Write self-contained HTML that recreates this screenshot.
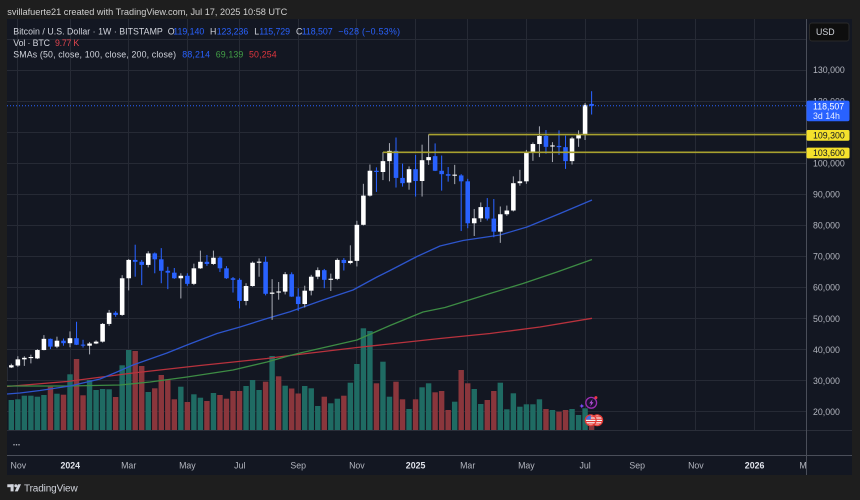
<!DOCTYPE html>
<html><head><meta charset="utf-8"><style>
html,body{margin:0;padding:0;background:#1e1e1e;}
svg{display:block;font-family:"Liberation Sans",sans-serif;}
</style></head><body>
<svg width="860" height="500" viewBox="0 0 860 500" xmlns="http://www.w3.org/2000/svg">
<defs>
<clipPath id="pane"><rect x="7" y="19" width="799.5" height="411"/></clipPath>
<clipPath id="tax"><rect x="7" y="456" width="799.5" height="19"/></clipPath>
<clipPath id="f1"><circle cx="590.7" cy="420.3" r="5.4"/></clipPath>
<clipPath id="f2"><circle cx="597.2" cy="420.3" r="5.4"/></clipPath>
</defs>
<rect width="860" height="500" fill="#1e1e1e"/>
<text x="7.3" y="14.8" font-size="9.2" fill="#cfcfcf" textLength="280">svillafuerte21 created with TradingView.com, Jul 17, 2025 10:58 UTC</text>
<rect x="7" y="19" width="845" height="456" fill="#131722"/>

<g clip-path="url(#pane)">
<g stroke="#262a35" stroke-width="1">
<line x1="7" x2="806" y1="411.5" y2="411.5"/><line x1="7" x2="806" y1="380.5" y2="380.5"/><line x1="7" x2="806" y1="349.5" y2="349.5"/><line x1="7" x2="806" y1="318.5" y2="318.5"/><line x1="7" x2="806" y1="287.5" y2="287.5"/><line x1="7" x2="806" y1="256.5" y2="256.5"/><line x1="7" x2="806" y1="225.5" y2="225.5"/><line x1="7" x2="806" y1="194.5" y2="194.5"/><line x1="7" x2="806" y1="163.5" y2="163.5"/><line x1="7" x2="806" y1="132.5" y2="132.5"/><line x1="7" x2="806" y1="101.5" y2="101.5"/><line x1="7" x2="806" y1="70.5" y2="70.5"/><line x1="7" x2="806" y1="39.5" y2="39.5"/>
<line y1="19" y2="430" x1="17.5" x2="17.5"/><line y1="19" y2="430" x1="70.5" x2="70.5"/><line y1="19" y2="430" x1="128.5" x2="128.5"/><line y1="19" y2="430" x1="187.5" x2="187.5"/><line y1="19" y2="430" x1="239.5" x2="239.5"/><line y1="19" y2="430" x1="298.5" x2="298.5"/><line y1="19" y2="430" x1="356.5" x2="356.5"/><line y1="19" y2="430" x1="415.5" x2="415.5"/><line y1="19" y2="430" x1="467.5" x2="467.5"/><line y1="19" y2="430" x1="526.5" x2="526.5"/><line y1="19" y2="430" x1="585.5" x2="585.5"/><line y1="19" y2="430" x1="637.5" x2="637.5"/><line y1="19" y2="430" x1="695.5" x2="695.5"/><line y1="19" y2="430" x1="754.5" x2="754.5"/>
</g>

<g transform="matrix(6.52 0 0 1 17.84 0)">
<g fill="#1f6b63">
<rect x="-1.415" y="400" width=".83" height="30"/><rect x="-0.415" y="399.3" width=".83" height="30.7"/><rect x="0.585" y="395.7" width=".83" height="34.3"/><rect x="1.585" y="395.7" width=".83" height="34.3"/><rect x="2.585" y="396.7" width=".83" height="33.3"/><rect x="3.585" y="395" width=".83" height="35"/><rect x="5.585" y="393.7" width=".83" height="36.3"/><rect x="7.585" y="374.3" width=".83" height="55.7"/><rect x="10.585" y="380" width=".83" height="50"/><rect x="11.585" y="390" width=".83" height="40"/><rect x="12.585" y="389" width=".83" height="41"/><rect x="13.585" y="389.3" width=".83" height="40.7"/><rect x="15.585" y="365.3" width=".83" height="64.7"/><rect x="16.585" y="350" width=".83" height="80"/><rect x="19.585" y="392" width=".83" height="38"/><rect x="24.585" y="386.7" width=".83" height="43.3"/><rect x="26.585" y="394.3" width=".83" height="35.7"/><rect x="27.585" y="397.7" width=".83" height="32.3"/><rect x="29.585" y="393" width=".83" height="37"/><rect x="34.585" y="386" width=".83" height="44"/><rect x="35.585" y="380" width=".83" height="50"/><rect x="36.585" y="390" width=".83" height="40"/><rect x="38.585" y="356" width=".83" height="74"/><rect x="40.585" y="385.7" width=".83" height="44.3"/><rect x="43.585" y="386" width=".83" height="44"/><rect x="44.585" y="388.3" width=".83" height="41.7"/><rect x="45.585" y="406" width=".83" height="24"/><rect x="47.585" y="403.3" width=".83" height="26.7"/><rect x="48.585" y="398.7" width=".83" height="31.3"/><rect x="50.585" y="382.7" width=".83" height="47.3"/><rect x="51.585" y="364" width=".83" height="66"/><rect x="52.585" y="328.3" width=".83" height="101.7"/><rect x="53.585" y="331" width=".83" height="99"/><rect x="55.585" y="361.7" width=".83" height="68.3"/><rect x="56.585" y="396.7" width=".83" height="33.3"/><rect x="59.585" y="409" width=".83" height="21"/><rect x="61.585" y="387.3" width=".83" height="42.7"/><rect x="62.585" y="383.3" width=".83" height="46.7"/><rect x="66.585" y="401.7" width=".83" height="28.3"/><rect x="69.585" y="389" width=".83" height="41"/><rect x="70.585" y="404" width=".83" height="26"/><rect x="73.585" y="382.7" width=".83" height="47.3"/><rect x="74.585" y="409.3" width=".83" height="20.7"/><rect x="75.585" y="393.3" width=".83" height="36.7"/><rect x="76.585" y="406.7" width=".83" height="23.3"/><rect x="77.585" y="404.3" width=".83" height="25.7"/><rect x="78.585" y="404.3" width=".83" height="25.7"/><rect x="79.585" y="399.3" width=".83" height="30.7"/><rect x="81.585" y="410" width=".83" height="20"/><rect x="84.585" y="409" width=".83" height="21"/><rect x="85.585" y="415" width=".83" height="15"/><rect x="86.585" y="408.3" width=".83" height="21.7"/>
</g>
<g fill="#8a363c">
<rect x="4.585" y="386.7" width=".83" height="43.3"/><rect x="6.585" y="394.7" width=".83" height="35.3"/><rect x="8.585" y="359" width=".83" height="71"/><rect x="9.585" y="395.3" width=".83" height="34.7"/><rect x="14.585" y="397" width=".83" height="33"/><rect x="17.585" y="351" width=".83" height="79"/><rect x="18.585" y="366" width=".83" height="64"/><rect x="20.585" y="388.3" width=".83" height="41.7"/><rect x="21.585" y="375" width=".83" height="55"/><rect x="22.585" y="379.3" width=".83" height="50.7"/><rect x="23.585" y="399.3" width=".83" height="30.7"/><rect x="25.585" y="402" width=".83" height="28"/><rect x="28.585" y="401" width=".83" height="29"/><rect x="30.585" y="395" width=".83" height="35"/><rect x="31.585" y="398.7" width=".83" height="31.3"/><rect x="32.585" y="391" width=".83" height="39"/><rect x="33.585" y="391" width=".83" height="39"/><rect x="37.585" y="381.7" width=".83" height="48.3"/><rect x="39.585" y="376.3" width=".83" height="53.7"/><rect x="41.585" y="388.5" width=".83" height="41.5"/><rect x="42.585" y="393.5" width=".83" height="36.5"/><rect x="46.585" y="396.7" width=".83" height="33.3"/><rect x="49.585" y="395.7" width=".83" height="34.3"/><rect x="54.585" y="383.3" width=".83" height="46.7"/><rect x="57.585" y="381.7" width=".83" height="48.3"/><rect x="58.585" y="399.3" width=".83" height="30.7"/><rect x="60.585" y="399.3" width=".83" height="30.7"/><rect x="63.585" y="392.3" width=".83" height="37.7"/><rect x="64.585" y="391" width=".83" height="39"/><rect x="65.585" y="410" width=".83" height="20"/><rect x="67.585" y="370" width=".83" height="60"/><rect x="68.585" y="383.3" width=".83" height="46.7"/><rect x="71.585" y="400" width=".83" height="30"/><rect x="72.585" y="391" width=".83" height="39"/><rect x="80.585" y="409" width=".83" height="21"/><rect x="82.585" y="411.7" width=".83" height="18.3"/><rect x="83.585" y="410" width=".83" height="20"/><rect x="87.585" y="424" width=".83" height="6"/>
</g>
</g>

<g fill="none" stroke-width="1.3" stroke-linejoin="round">
<polyline stroke="#b8323d" points="7,386.5 67,381.5 133,373 200,365.5 267,358.5 290,355.5 357,347.5 440,338.5 490,333.5 540,327 592,318.3"/>
<polyline stroke="#3d8c44" points="7,386 67,386 120,385 150,382 187,377 233,370 267,362 290,355.5 300,353 357,340 390,325.5 423,312 445,307.5 490,293.5 523,283.5 557,272 592,259.5"/>
<polyline stroke="#2d55cc" points="7,394 20,393 40,390.5 70,386 100,379 117,372 133,365 150,359 167,353 187,345 217,333.5 240,327 267,318.5 290,311.7 323,300 353,290 377,277 390,270.5 417,256.5 440,246 463,240.5 500,235 527,227 560,213.5 592,200"/>
</g>

<g transform="matrix(6.52 0 0 -3.107 17.84 474)">
<g fill="#a3a6af">
<rect x="-2.08" y="29.8" width=".16" height="5.2"/><rect x="-1.08" y="34.1" width=".16" height="1.4"/><rect x="-0.08" y="34.5" width=".16" height="3.4"/><rect x="0.92" y="34.8" width=".16" height="3.1"/><rect x="1.92" y="35.6" width=".16" height="2.8"/><rect x="2.92" y="37" width=".16" height="3.2"/><rect x="3.92" y="39.8" width=".16" height="4.9"/><rect x="5.92" y="40.5" width=".16" height="3.7"/><rect x="7.92" y="40.8" width=".16" height="5.1"/><rect x="10.92" y="38.5" width=".16" height="4"/><rect x="11.92" y="41.8" width=".16" height="1.2"/><rect x="12.92" y="42.3" width=".16" height="6.3"/><rect x="13.92" y="47.7" width=".16" height="5.1"/><rect x="15.92" y="50.9" width=".16" height="13.1"/><rect x="16.92" y="59.1" width=".16" height="10.1"/><rect x="19.92" y="66.5" width=".16" height="5.2"/><rect x="24.92" y="56.5" width=".16" height="8.1"/><rect x="26.92" y="60.8" width=".16" height="6.9"/><rect x="27.92" y="66" width=".16" height="5.9"/><rect x="29.92" y="67.3" width=".16" height="4.6"/><rect x="34.92" y="54.3" width=".16" height="7.1"/><rect x="35.92" y="60.3" width=".16" height="8.1"/><rect x="36.92" y="63.5" width=".16" height="5.9"/><rect x="38.92" y="49.6" width=".16" height="13.1"/><rect x="39.92" y="56.1" width=".16" height="5.7"/><rect x="40.92" y="57.8" width=".16" height="7.2"/><rect x="43.92" y="53.6" width=".16" height="7"/><rect x="44.92" y="57.5" width=".16" height="6.6"/><rect x="45.92" y="62.7" width=".16" height="3.8"/><rect x="47.92" y="58.9" width=".16" height="5.6"/><rect x="48.92" y="62.4" width=".16" height="7"/><rect x="50.92" y="67.5" width=".16" height="6.1"/><rect x="51.92" y="66.8" width=".16" height="14.7"/><rect x="52.92" y="80" width=".16" height="13.4"/><rect x="53.92" y="89.3" width=".16" height="10.3"/><rect x="55.92" y="94.6" width=".16" height="9"/><rect x="56.92" y="94.2" width=".16" height="12.3"/><rect x="59.92" y="91.5" width=".16" height="7.5"/><rect x="61.92" y="89.3" width=".16" height="16.7"/><rect x="62.92" y="99.5" width=".16" height="9.8"/><rect x="66.92" y="93.3" width=".16" height="6.2"/><rect x="69.92" y="76.6" width=".16" height="8.7"/><rect x="70.92" y="81.1" width=".16" height="6.3"/><rect x="73.92" y="74.4" width=".16" height="11.7"/><rect x="74.92" y="83.1" width=".16" height="3.3"/><rect x="75.92" y="84.5" width=".16" height="11.3"/><rect x="76.92" y="92.8" width=".16" height="5.1"/><rect x="77.92" y="93.4" width=".16" height="10.9"/><rect x="78.92" y="100.8" width=".16" height="5.9"/><rect x="79.92" y="102" width=".16" height="9.9"/><rect x="81.92" y="100.4" width=".16" height="6.4"/><rect x="84.92" y="99.6" width=".16" height="8.9"/><rect x="85.92" y="105.3" width=".16" height="5.3"/><rect x="86.92" y="107.5" width=".16" height="11.9"/>
</g>
<g fill="#ffffff">
<rect x="-2.35" y="30" width=".7" height="4.5"/><rect x="-1.35" y="34.3" width=".7" height=".7"/><rect x="-0.35" y="34.9" width=".7" height="2"/><rect x="0.65" y="36.9" width=".7" height=".5"/><rect x="1.65" y="37.3" width=".7" height=".35"/><rect x="2.65" y="37.2" width=".7" height="2.7"/><rect x="3.65" y="39.9" width=".7" height="3.6"/><rect x="5.65" y="41" width=".7" height="1.9"/><rect x="7.65" y="42.1" width=".7" height="1.6"/><rect x="10.65" y="41.3" width=".7" height=".7"/><rect x="11.65" y="42" width=".7" height=".6"/><rect x="12.65" y="42.6" width=".7" height="5.7"/><rect x="13.65" y="48.3" width=".7" height="3.6"/><rect x="15.65" y="51.2" width=".7" height="11.8"/><rect x="16.65" y="63" width=".7" height="5.9"/><rect x="19.65" y="67.3" width=".7" height="3.7"/><rect x="24.65" y="63" width=".7" height=".8"/><rect x="26.65" y="61.2" width=".7" height="5"/><rect x="27.65" y="66.2" width=".7" height="2.1"/><rect x="29.65" y="67.6" width=".7" height="2"/><rect x="34.65" y="55.7" width=".7" height="4.8"/><rect x="35.65" y="60.5" width=".7" height="7.5"/><rect x="36.65" y="68" width=".7" height=".35"/><rect x="38.65" y="58" width=".7" height=".4"/><rect x="39.65" y="58.4" width=".7" height=".35"/><rect x="40.65" y="58.7" width=".7" height="5.6"/><rect x="43.65" y="54.7" width=".7" height="4.3"/><rect x="44.65" y="59" width=".7" height="4.5"/><rect x="45.65" y="63.5" width=".7" height="2.1"/><rect x="47.65" y="62.5" width=".7" height=".35"/><rect x="48.65" y="62.8" width=".7" height="6.1"/><rect x="50.65" y="67.9" width=".7" height=".7"/><rect x="51.65" y="68.6" width=".7" height="11.6"/><rect x="52.65" y="80.2" width=".7" height="9.4"/><rect x="53.65" y="89.6" width=".7" height="8"/><rect x="55.65" y="97.2" width=".7" height="3.5"/><rect x="56.65" y="100.7" width=".7" height="3.3"/><rect x="59.65" y="93.8" width=".7" height="4.3"/><rect x="61.65" y="94.3" width=".7" height="6.7"/><rect x="62.65" y="101" width=".7" height="1"/><rect x="66.65" y="96" width=".7" height=".35"/><rect x="69.65" y="80.7" width=".7" height="1.6"/><rect x="70.65" y="82.3" width=".7" height="3.6"/><rect x="73.65" y="78" width=".7" height="5.6"/><rect x="74.65" y="83.6" width=".7" height="1.2"/><rect x="75.65" y="84.8" width=".7" height="8.8"/><rect x="76.65" y="93.6" width=".7" height=".6"/><rect x="77.65" y="94.2" width=".7" height="9.5"/><rect x="78.65" y="103.7" width=".7" height="2.5"/><rect x="79.65" y="106.2" width=".7" height="2.6"/><rect x="81.65" y="105.4" width=".7" height=".35"/><rect x="84.65" y="100.7" width=".7" height="7.3"/><rect x="85.65" y="108" width=".7" height="1.1"/><rect x="86.65" y="109.1" width=".7" height="9.7"/>
</g>
<g fill="#2962ff">
<rect x="4.92" y="40.2" width=".16" height="3.4"/><rect x="6.92" y="41.3" width=".16" height="2.3"/><rect x="8.92" y="41.5" width=".16" height="7.5"/><rect x="9.92" y="40.7" width=".16" height="2.5"/><rect x="14.92" y="50.6" width=".16" height="1.8"/><rect x="17.92" y="63.5" width=".16" height="10.3"/><rect x="18.92" y="60.8" width=".16" height="8.1"/><rect x="20.92" y="64.6" width=".16" height="6.7"/><rect x="21.92" y="61.4" width=".16" height="11.3"/><rect x="22.92" y="59.5" width=".16" height="7.2"/><rect x="23.92" y="62.8" width=".16" height="3.5"/><rect x="25.92" y="60.6" width=".16" height="4"/><rect x="28.92" y="67" width=".16" height="3.5"/><rect x="30.92" y="65" width=".16" height="5"/><rect x="31.92" y="62.8" width=".16" height="4.1"/><rect x="32.92" y="58.4" width=".16" height="5"/><rect x="33.92" y="53.3" width=".16" height="9.7"/><rect x="37.92" y="57.5" width=".16" height="12.5"/><rect x="41.92" y="57" width=".16" height="7.9"/><rect x="42.92" y="52.5" width=".16" height="7.3"/><rect x="46.92" y="59.8" width=".16" height="6.2"/><rect x="49.92" y="65.5" width=".16" height="4"/><rect x="54.92" y="90.8" width=".16" height="7.9"/><rect x="57.92" y="92.2" width=".16" height="16.1"/><rect x="58.92" y="92.5" width=".16" height="7.4"/><rect x="60.92" y="89.3" width=".16" height="13.4"/><rect x="63.92" y="97.5" width=".16" height="8.9"/><rect x="64.92" y="91.2" width=".16" height="11.3"/><rect x="65.92" y="94.1" width=".16" height="4.7"/><rect x="67.92" y="78.2" width=".16" height="18.3"/><rect x="68.92" y="79.1" width=".16" height="15.9"/><rect x="71.92" y="81.6" width=".16" height="7.2"/><rect x="72.92" y="76.2" width=".16" height="12.3"/><rect x="80.92" y="103.1" width=".16" height="7.6"/><rect x="82.92" y="102.7" width=".16" height="7.9"/><rect x="83.92" y="98.2" width=".16" height="10.7"/><rect x="87.92" y="115.7" width=".16" height="7.5"/>
<rect x="4.65" y="41" width=".7" height="2.5"/><rect x="6.65" y="42.1" width=".7" height=".8"/><rect x="8.65" y="41.6" width=".7" height="2.1"/><rect x="9.65" y="41.3" width=".7" height=".35"/><rect x="14.65" y="51.2" width=".7" height=".7"/><rect x="17.65" y="68.3" width=".7" height=".6"/><rect x="18.65" y="67.3" width=".7" height="1"/><rect x="20.65" y="69.1" width=".7" height="1.9"/><rect x="21.65" y="65.4" width=".7" height="3.7"/><rect x="22.65" y="64.8" width=".7" height=".6"/><rect x="23.65" y="63" width=".7" height="1.8"/><rect x="25.65" y="61.2" width=".7" height="2.6"/><rect x="28.65" y="67.6" width=".7" height=".7"/><rect x="30.65" y="66.2" width=".7" height="3.4"/><rect x="31.65" y="63" width=".7" height="3.2"/><rect x="32.65" y="62.5" width=".7" height=".5"/><rect x="33.65" y="55.7" width=".7" height="6.8"/><rect x="37.65" y="58" width=".7" height="10.3"/><rect x="41.65" y="57.1" width=".7" height="7.2"/><rect x="42.65" y="54.7" width=".7" height="2.4"/><rect x="46.65" y="62.5" width=".7" height="3.1"/><rect x="49.65" y="67.9" width=".7" height="1"/><rect x="54.65" y="97.2" width=".7" height=".4"/><rect x="57.65" y="95.3" width=".7" height="8.7"/><rect x="58.65" y="93.6" width=".7" height="1.7"/><rect x="60.65" y="94.3" width=".7" height="3.8"/><rect x="63.65" y="97.6" width=".7" height="4.7"/><rect x="64.65" y="96.5" width=".7" height="1.1"/><rect x="65.65" y="96" width=".7" height=".5"/><rect x="67.65" y="94.2" width=".7" height="1.9"/><rect x="68.65" y="80.7" width=".7" height="13.5"/><rect x="71.65" y="82.2" width=".7" height="3.7"/><rect x="72.65" y="78" width=".7" height="4.2"/><rect x="80.65" y="105.3" width=".7" height="3.5"/><rect x="82.65" y="105.2" width=".7" height=".4"/><rect x="83.65" y="100.7" width=".7" height="4.5"/><rect x="87.65" y="118.5" width=".7" height=".6"/>
</g>
</g>

<line x1="7" x2="806" y1="105.8" y2="105.8" stroke="#2962ff" stroke-width="1" stroke-dasharray="1 2"/>
<line x1="428.6" x2="806" y1="134.6" y2="134.6" stroke="#a8a12f" stroke-width="1.6"/>
<line x1="383" x2="806" y1="152.3" y2="152.3" stroke="#a8a12f" stroke-width="1.6"/>

<circle cx="591.2" cy="402.8" r="5.4" fill="#1c1230" stroke="#9c2fb3" stroke-width="1.3"/>
<polygon points="592.6,399.2 589.2,403.4 591.1,403.4 590.2,406.5 593.5,402.2 591.6,402.2" fill="#b454d6"/>
<circle cx="595.9" cy="397.6" r="1.5" fill="#f23645"/>
<polygon points="581.8,403.6 582.5,405.3 584.2,406 582.5,406.7 581.8,408.4 581.1,406.7 579.4,406 581.1,405.3" fill="#7c4dff"/>
<g clip-path="url(#f2)"><rect x="591" y="414" width="12" height="13" fill="#f5f5f5"/><rect x="591" y="416.2" width="12" height="1.2" fill="#e53935"/><rect x="591" y="418.6" width="12" height="1.2" fill="#e53935"/><rect x="591" y="421" width="12" height="1.2" fill="#e53935"/><rect x="591" y="423.4" width="12" height="1.2" fill="#e53935"/></g>
<circle cx="597.2" cy="420.3" r="5.4" fill="none" stroke="#e53935" stroke-width="1.2"/>
<g clip-path="url(#f1)"><rect x="585" y="414" width="12" height="13" fill="#f5f5f5"/><rect x="585" y="416.2" width="12" height="1.2" fill="#e53935"/><rect x="585" y="418.6" width="12" height="1.2" fill="#e53935"/><rect x="585" y="421" width="12" height="1.2" fill="#e53935"/><rect x="585" y="423.4" width="12" height="1.2" fill="#e53935"/><rect x="585" y="414" width="5.8" height="5.6" fill="#3d6fe0"/></g>
<circle cx="590.7" cy="420.3" r="5.4" fill="none" stroke="#e53935" stroke-width="1.2"/>
</g>

<g font-size="8.8">
<text x="13.3" y="34.3" fill="#d1d4dc" textLength="149.5">Bitcoin / U.S. Dollar · 1W · BITSTAMP</text>
<text x="167.7" y="34.3" fill="#d1d4dc">O</text><text x="173.3" y="34.3" fill="#2962ff" textLength="31">119,140</text>
<text x="210" y="34.3" fill="#d1d4dc">H</text><text x="216.7" y="34.3" fill="#2962ff" textLength="31.6">123,236</text>
<text x="254.3" y="34.3" fill="#d1d4dc">L</text><text x="259.3" y="34.3" fill="#2962ff" textLength="30.7">115,729</text>
<text x="296" y="34.3" fill="#d1d4dc">C</text><text x="301.7" y="34.3" fill="#2962ff" textLength="31">118,507</text>
<text x="338.3" y="34.3" fill="#2962ff" textLength="61.7">−628 (−0.53%)</text>
<text x="13.3" y="46" fill="#d1d4dc" textLength="36.7">Vol · BTC</text>
<text x="55" y="46" fill="#e0454f" textLength="24.3">9.77 K</text>
<text x="13.3" y="57.5" fill="#d1d4dc" textLength="162.7">SMAs (50, close, 100, close, 200, close)</text>
<text x="182.3" y="57.5" fill="#2962ff" textLength="27.7">88,214</text>
<text x="215.7" y="57.5" fill="#43a047" textLength="27.6">69,139</text>
<text x="249" y="57.5" fill="#e0363e" textLength="27.7">50,254</text>
</g>

<line x1="7" x2="852" y1="430.5" y2="430.5" stroke="#2a2e39"/>
<line x1="7" x2="852" y1="455.5" y2="455.5" stroke="#4a4e59"/>
<line x1="806.5" x2="806.5" y1="19" y2="475" stroke="#4a4e59"/>
<g fill="#b2b5be"><circle cx="14" cy="444.7" r=".75"/><circle cx="16.5" cy="444.7" r=".75"/><circle cx="19" cy="444.7" r=".75"/></g>

<g font-size="8.8" fill="#b2b5be">
<text x="813" y="73.2">130,000</text>
<text x="813" y="104.3">120,000</text>
<text x="813" y="166.4">100,000</text>
<text x="813" y="197.5">90,000</text>
<text x="813" y="228.5">80,000</text>
<text x="813" y="259.6">70,000</text>
<text x="813" y="290.7">60,000</text>
<text x="813" y="321.8">50,000</text>
<text x="813" y="352.8">40,000</text>
<text x="813" y="383.9">30,000</text>
<text x="813" y="415">20,000</text>
</g>
<rect x="809.5" y="23" width="39.5" height="18" rx="2.5" fill="#0e0e0e" stroke="#2a2a2a" stroke-width="1"/>
<text x="816" y="35" font-size="8.8" fill="#d1d4dc">USD</text>
<rect x="806.5" y="100.6" width="43" height="20.6" rx="2" fill="#2962ff"/>
<text x="813" y="109.3" font-size="8.8" fill="#ffffff">118,507</text>
<text x="813" y="119" font-size="8.8" fill="#e8edff">3d 14h</text>
<rect x="806.5" y="130" width="43" height="10.8" rx="1.5" fill="#f5e12c"/>
<text x="813" y="138.5" font-size="8.8" fill="#131722">109,300</text>
<rect x="806.5" y="147.6" width="43" height="10.8" rx="1.5" fill="#f5e12c"/>
<text x="813" y="156.1" font-size="8.8" fill="#131722">103,600</text>

<g font-size="8.8" fill="#b2b5be" text-anchor="middle" clip-path="url(#tax)">
<text x="18.3" y="468.3">Nov</text>
<text x="70.3" y="468.3" font-weight="bold" fill="#e0e3eb">2024</text>
<text x="128.7" y="468.3">Mar</text>
<text x="187.4" y="468.3">May</text>
<text x="239.8" y="468.3">Jul</text>
<text x="298.2" y="468.3">Sep</text>
<text x="356.9" y="468.3">Nov</text>
<text x="415.6" y="468.3" font-weight="bold" fill="#e0e3eb">2025</text>
<text x="467.7" y="468.3">Mar</text>
<text x="526.4" y="468.3">May</text>
<text x="585.1" y="468.3">Jul</text>
<text x="637.2" y="468.3">Sep</text>
<text x="695.9" y="468.3">Nov</text>
<text x="754.6" y="468.3" font-weight="bold" fill="#e0e3eb">2026</text>
<text x="807" y="468.3">Mar</text>
</g>

<g fill="#d1d4dc">
<rect x="7.3" y="484.3" width="6.3" height="2.9"/>
<rect x="10.6" y="484.3" width="3" height="7.1"/>
<circle cx="15.8" cy="485.8" r="1.5"/>
<polygon points="18,484.3 21,484.3 17.8,491.4 14.8,491.4"/>
</g>
<text x="24" y="491.5" font-size="10" fill="#d1d4dc" textLength="53.7">TradingView</text>
</svg>
</body></html>
